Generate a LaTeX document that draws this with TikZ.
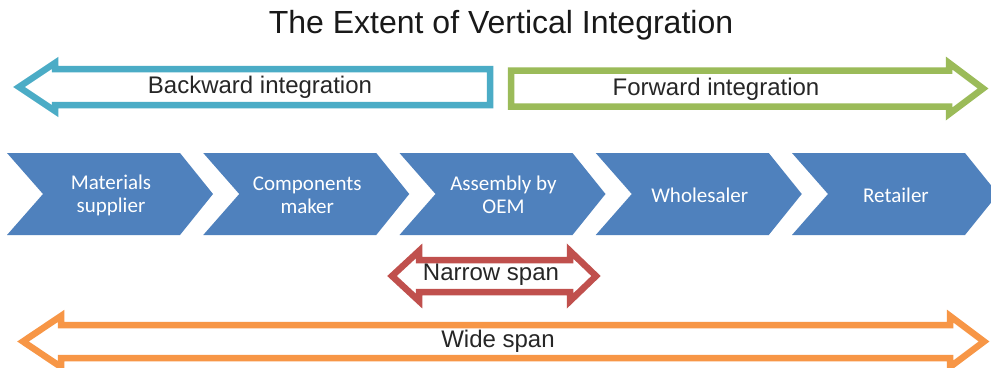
\documentclass[tikz,border=0pt]{standalone}
\usepackage{fontspec}
\setmainfont{Liberation Sans}
\newfontfamily\carlito{Carlito}
\definecolor{chevblue}{HTML}{4F81BD}
\definecolor{backblue}{HTML}{4BACC6}
\definecolor{fwdgreen}{HTML}{9BBB59}
\definecolor{narrowred}{HTML}{C0504D}
\definecolor{wideorange}{HTML}{F79646}
\tikzset{
  bigarrow/.style={line width=6.5pt, fill=white, line join=miter},
  chevshape/.style={fill=chevblue, draw=none},
  chevtext/.style={text=white, font=\carlito\fontsize{21}{24}\selectfont, align=center},
  arrowtext/.style={text=black!85, font=\fontsize{24}{28}\selectfont},
  titletext/.style={text=black!90, font=\fontsize{32}{36}\selectfont}
}
\begin{document}
\begin{tikzpicture}[x=1pt,y=-1pt]
\useasboundingbox (0,0) rectangle (991,367);
\fill[white] (0,0) rectangle (991,367);

% title
\node[titletext] (title) at (501,25) {The Extent of Vertical Integration};

% backward integration arrow
\draw[bigarrow, draw=backblue] (19,87) -- (55,63) -- (55,69) -- (490,69) -- (490,105) -- (55,105) -- (55,111) -- cycle;
\node[arrowtext] (back) at (260,87) {Backward integration};

% forward integration arrow
\draw[bigarrow, draw=fwdgreen] (511,70.5) -- (949,70.5) -- (949,63) -- (983,88.5) -- (949,114) -- (949,106.5) -- (511,106.5) -- cycle;
\node[arrowtext] (fwd) at (716,89) {Forward integration};

% chevrons
\foreach \s/\nm in {7/c1,203.25/c2,399.5/c3,595.75/c4,792/c5}{
  \fill[chevshape] (\s,153) -- ({\s+173},153) -- ({\s+206},194) -- ({\s+173},235) -- (\s,235) -- ({\s+36},194) -- cycle;
  \coordinate (\nm) at ({\s+104},195);
}
\node[chevtext] (t1) at (c1) {Materials\\[-1pt]supplier};
\node[chevtext] (t2) at (c2) {Components\\[-1pt]maker};
\node[chevtext] (t3) at (c3) {Assembly by\\[-1pt]OEM};
\node[chevtext] (t4) at (c4) {Wholesaler};
\node[chevtext] (t5) at (c5) {Retailer};

% narrow span
\draw[bigarrow, draw=narrowred] (392,276) -- (419,251) -- (419,260) -- (570,260) -- (570,251) -- (596,276) -- (570,301) -- (570,292) -- (419,292) -- (419,301) -- cycle;
\node[arrowtext] (narrow) at (491,275) {Narrow span};

% wide span
\draw[bigarrow, draw=wideorange] (23,341.5) -- (61,316) -- (61,325) -- (950,325) -- (950,316) -- (984,341.5) -- (950,367) -- (950,358) -- (61,358) -- (61,367) -- cycle;
\node[arrowtext] (wide) at (498,341) {Wide span};
\end{tikzpicture}
\end{document}
